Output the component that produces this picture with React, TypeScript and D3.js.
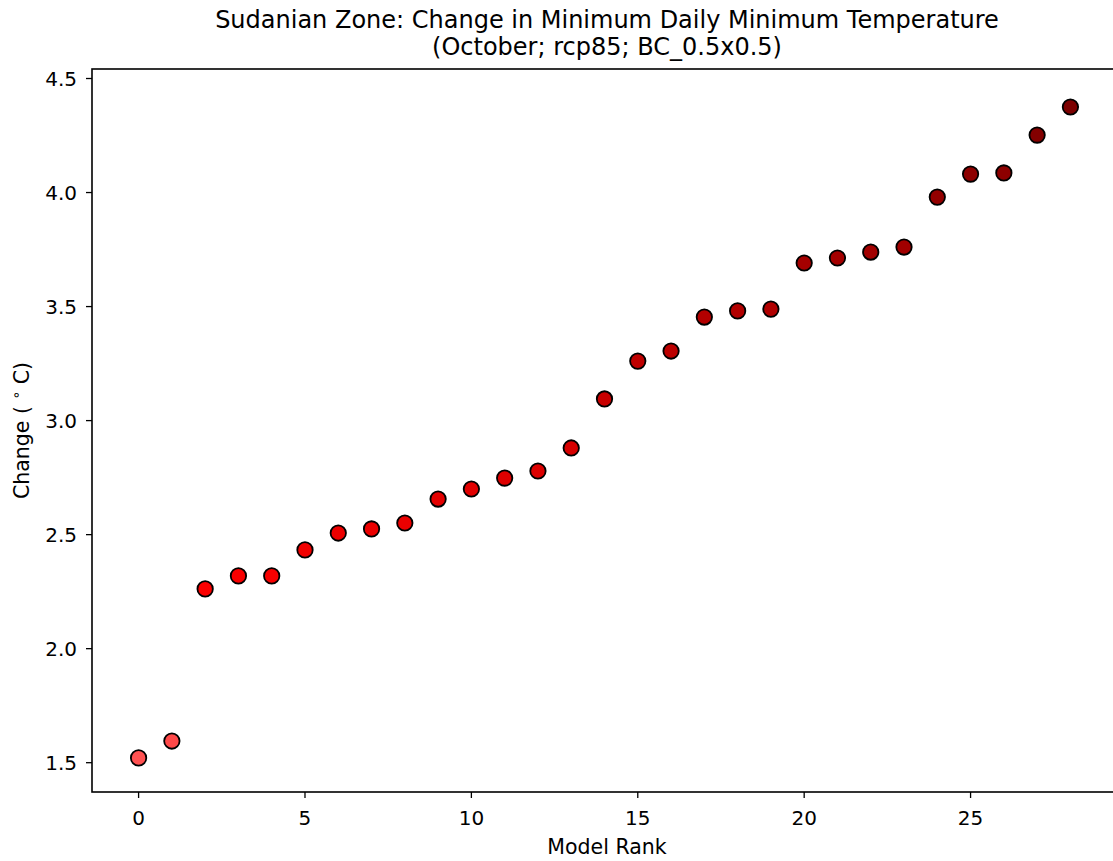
import React from "react";
import * as d3 from "d3";

const ranks: number[] = [0,1,2,3,4,5,6,7,8,9,10,11,12,13,14,15,16,17,18,19,20,21,22,23,24,25,26,27,28];
const changes: number[] = [1.521,1.595,2.262,2.319,2.319,2.433,2.507,2.525,2.551,2.656,2.700,2.748,2.779,2.880,3.095,3.261,3.305,3.454,3.481,3.489,3.691,3.713,3.739,3.761,3.980,4.081,4.086,4.252,4.375];
const xTicks: number[] = [0,5,10,15,20,25];
const yTicks: number[] = [1.5,2.0,2.5,3.0,3.5,4.0,4.5];

const W = 1113, H = 861;
const left = 92, right = 1117, top = 69, bottom = 792;
const font = "'DejaVu Sans', sans-serif";

export default function App() {
  const x = d3.scaleLinear().domain([-1.4, 29.4]).range([left, right]);
  const y = d3.scaleLinear().domain([1.3715, 4.5417]).range([bottom, top]);
  const color = d3.scaleLinear<string>().domain([1.5, 2.2, 4.4]).range(["#ff5555", "#ff0000", "#7a0000"]).clamp(true);
  return (
    <svg width={W} height={H} style={{ position: "absolute", left: 0, top: 0, background: "#fff" }} fontFamily={font}>
      <rect x={0} y={0} width={W} height={H} fill="#fff" />
      <text x={607} y={28} textAnchor="middle" fontSize={24}>Sudanian Zone: Change in Minimum Daily Minimum Temperature</text>
      <text x={607} y={55} textAnchor="middle" fontSize={24}>(October; rcp85; BC_0.5x0.5)</text>
      <rect x={left} y={top} width={right - left} height={bottom - top} fill="none" stroke="#000" strokeWidth={1.6} />
      {xTicks.map((t) => (
        <g key={"x" + t}>
          <line x1={x(t)} x2={x(t)} y1={bottom} y2={bottom + 6} stroke="#000" strokeWidth={1.3} />
          <text x={x(t)} y={825} textAnchor="middle" fontSize={20}>{t}</text>
        </g>
      ))}
      {yTicks.map((t) => (
        <g key={"y" + t}>
          <line x1={left - 6} x2={left} y1={y(t)} y2={y(t)} stroke="#000" strokeWidth={1.3} />
          <text x={77} y={y(t) + 7} textAnchor="end" fontSize={20}>{t.toFixed(1)}</text>
        </g>
      ))}
      <text x={607} y={854} textAnchor="middle" fontSize={20.5}>Model Rank</text>
      <text transform={`translate(29, ${(top + bottom) / 2}) rotate(-90)`} textAnchor="middle" fontSize={20.5}>
        Change ( <tspan baselineShift="super" fontSize={14}>∘</tspan> C)
      </text>
      {ranks.map((r, i) => (
        <circle key={r} cx={x(r)} cy={y(changes[i])} r={7.7} fill={color(changes[i])} stroke="#000" strokeWidth={1.8} />
      ))}
    </svg>
  );
}
